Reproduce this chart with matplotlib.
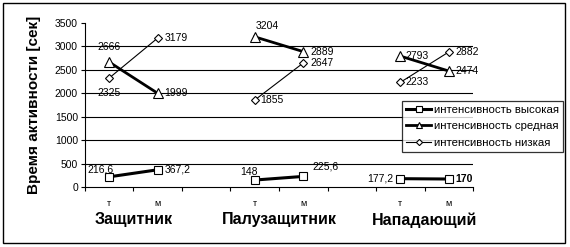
import matplotlib
matplotlib.use("Agg")
import matplotlib.pyplot as plt
from matplotlib.patches import Rectangle

plt.rcParams['font.family'] = ['Liberation Sans', 'DejaVu Sans']

# categories: т / м per position, with an empty slot between groups
cats = ['т', 'м', '', 'т', 'м', '', 'т', 'м']
groups = ['Защитник', 'Палузащитник', 'Нападающий']

high = [216.6, 367.2, None, 148, 225.6, None, 177.2, 170]
medium = [2666, 1999, None, 3204, 2889, None, 2793, 2474]
low = [2325, 3179, None, 1855, 2647, None, 2233, 2882]

high_lbl = ['216,6', '367,2', '', '148', '225,6', '', '177,2', '170']
med_lbl = ['2666', '1999', '', '3204', '2889', '', '2793', '2474']
low_lbl = ['2325', '3179', '', '1855', '2647', '', '2233', '2882']

names = ['интенсивность высокая', 'интенсивность средная', 'интенсивность низкая']

fig = plt.figure(figsize=(5.7, 2.47), dpi=100)
ax = fig.add_axes([0.149, 0.243, 0.681, 0.664])

x = [i + 0.5 for i in range(len(cats))]

def segs(vals):
    # split series into groups of two
    out = []
    for g in range(3):
        i0 = g * 3
        out.append(([x[i0], x[i0 + 1]], [vals[i0], vals[i0 + 1]]))
    return out

styles = [
    dict(marker='s', lw=2.2, ms=5.5),
    dict(marker='^', lw=2.0, ms=6.5),
    dict(marker='D', lw=0.8, ms=4.5),
]
series = [high, medium, low]
for k, (vals, st) in enumerate(zip(series, styles)):
    for j, (xx, yy) in enumerate(segs(vals)):
        ax.plot(xx, yy, color='black', lw=st['lw'], marker=st['marker'], ms=st['ms'],
                mfc='white', mec='black', mew=0.8,
                label=names[k] if j == 0 else None, zorder=3)

# data labels: (dx, dy) offsets in points, ha
off_high = [(-6, 5, 'center'), (5, 0, 'left'), None, (-4, 6, 'center'), (16, 7, 'center'), None, (-5, 0, 'right'), (5, 0, 'left')]
off_med = [(0, 11, 'center'), (5, 0, 'left'), None, (9, 8, 'center'), (5, 0, 'left'), None, (4, 0, 'left'), (5, 0, 'left')]
off_low = [(0, -11, 'center'), (5, 0, 'left'), None, (4, 0, 'left'), (5, 0, 'left'), None, (4, 0, 'left'), (5, 0, 'left')]
for vals, labs, offs in [(high, high_lbl, off_high), (medium, med_lbl, off_med), (low, low_lbl, off_low)]:
    for i, v in enumerate(vals):
        if v is None:
            continue
        dx, dy, ha = offs[i]
        w = 'bold' if labs[i] == '170' else 'normal'
        ax.annotate(labs[i], (x[i], v), xytext=(dx, dy), textcoords='offset points',
                    ha=ha, va='center', fontsize=7.5, fontweight=w, zorder=4)

ax.set_xlim(0, len(cats))
ax.set_ylim(0, 3500)
ax.set_yticks(range(0, 3501, 500))
ax.set_xticks(range(0, len(cats) + 1))
ax.set_xticklabels([])
ax.tick_params(axis='x', length=3, width=0.8)
ax.tick_params(axis='y', length=3, width=0.8, labelsize=7.5, pad=2)
for yv in range(500, 3001, 500):
    ax.axhline(yv, color='black', lw=0.8, zorder=1)
for s in ['top', 'right']:
    ax.spines[s].set_visible(False)
ax.spines['left'].set_linewidth(0.8)
ax.spines['bottom'].set_linewidth(0.8)

for i, c in enumerate(cats):
    if c:
        ax.text(x[i], -0.1, c, transform=ax.get_xaxis_transform(), ha='center', va='center', fontsize=6.5)
for g, name in enumerate(groups):
    ax.text(x[g * 3] + 0.5, -0.2, name, transform=ax.get_xaxis_transform(),
            ha='center', va='center', fontsize=11.5, fontweight='bold')

ax.set_ylabel('Время активности [сек]', fontsize=11, fontweight='bold', labelpad=10)

leg = fig.legend(loc='upper left', bbox_to_anchor=(402 / 570, 1 - 101 / 247), fontsize=8.2,
                 frameon=True, fancybox=False, edgecolor='black', handlelength=2.2,
                 borderpad=0.35, labelspacing=0.55, handletextpad=0.25, markerscale=0.7,
                 borderaxespad=0)
leg.get_frame().set_linewidth(0.9)

fig.patches.append(Rectangle((3 / 570, 4 / 247), 562 / 570, 240 / 247, transform=fig.transFigure,
                             fill=False, edgecolor='black', lw=1))

fig.savefig('out.png', dpi=100)
